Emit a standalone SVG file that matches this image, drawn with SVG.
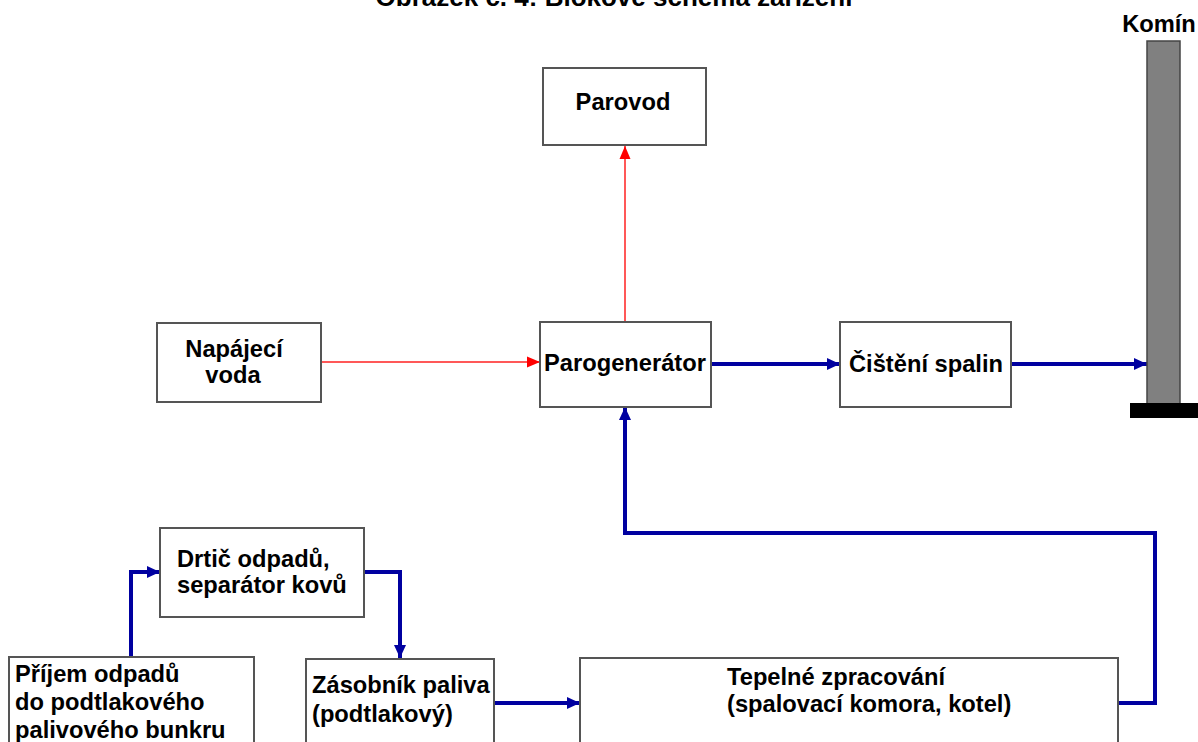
<svg xmlns="http://www.w3.org/2000/svg" width="1198" height="742" viewBox="0 0 1198 742">
<style>
.box{fill:#fff;stroke:#555;stroke-width:2}
.t{font-family:"Liberation Sans",Arial,sans-serif;font-weight:bold;font-size:23.7px;fill:#000}
.c{text-anchor:middle}
.blue{fill:none;stroke:#0000a0;stroke-width:4}
.red{fill:none;stroke:#ff2020;stroke-width:1.5}
</style>
<defs>
<marker id="ab" markerUnits="userSpaceOnUse" markerWidth="14" markerHeight="14" refX="13" refY="7" orient="auto">
<path d="M0,1 L13,7 L0,13 Z" fill="#0000a0"/>
</marker>
<marker id="ar" markerUnits="userSpaceOnUse" markerWidth="14" markerHeight="14" refX="13" refY="7" orient="auto">
<path d="M0,1.5 L13,7 L0,12.5 Z" fill="#ff0000"/>
</marker>
</defs>
<text class="t c" x="614" y="6" font-size="26" style="font-size:26px">Obrázek č. 4: Blokové schéma zařízení</text>

<g id="connectors">
<path class="red" d="M321,362 L540,362" marker-end="url(#ar)"/>
<path class="red" d="M625,321 L625,146" marker-end="url(#ar)"/>
<path class="blue" d="M711,364 L840,364" marker-end="url(#ab)"/>
<path class="blue" d="M1011,364 L1147,364" marker-end="url(#ab)"/>
<path class="blue" d="M1118,703 L1155,703 L1155,533 L625,533 L625,407" marker-end="url(#ab)"/>
<path class="blue" d="M131,657 L131,572 L160,572" marker-end="url(#ab)"/>
<path class="blue" d="M364,572 L400,572 L400,658" marker-end="url(#ab)"/>
<path class="blue" d="M494,703 L580,703" marker-end="url(#ab)"/>
</g>

<g id="parovod">
<rect class="box" x="543" y="68" width="163" height="77"/>
<text class="t c" x="623" y="110">Parovod</text>
</g>
<g id="napajeci-voda">
<rect class="box" x="157" y="323" width="164" height="79"/>
<text class="t c" x="234" y="357">Napájecí</text>
<text class="t c" x="233" y="383">voda</text>
</g>
<g id="parogenerator">
<rect class="box" x="540" y="322" width="171" height="85"/>
<text class="t c" x="625" y="371">Parogenerátor</text>
</g>
<g id="cisteni-spalin">
<rect class="box" x="840" y="322" width="171" height="85"/>
<text class="t c" x="926" y="372">Čištění spalin</text>
</g>
<g id="komin">
<text class="t c" x="1159" y="32">Komín</text>
<rect x="1147" y="41" width="33" height="363" fill="#808080" stroke="#444" stroke-width="1.5"/>
<rect x="1130" y="403" width="68" height="15" fill="#000"/>
</g>
<g id="drtic">
<rect class="box" x="160" y="528" width="204" height="89"/>
<text class="t" x="177" y="567">Drtič odpadů,</text>
<text class="t" x="177" y="593">separátor kovů</text>
</g>
<g id="prijem">
<rect class="box" x="9" y="657" width="245" height="100"/>
<text class="t" x="15" y="682">Příjem odpadů</text>
<text class="t" x="15" y="710">do podtlakového</text>
<text class="t" x="15" y="738">palivového bunkru</text>
</g>
<g id="zasobnik">
<rect class="box" x="306" y="659" width="188" height="100"/>
<text class="t" x="312" y="693">Zásobník paliva</text>
<text class="t" x="312" y="722">(podtlakový)</text>
</g>
<g id="tepelne">
<rect class="box" x="580" y="658" width="538" height="100"/>
<text class="t" x="727" y="685">Tepelné zpracování</text>
<text class="t" x="727" y="712">(spalovací komora, kotel)</text>
</g>
</svg>
